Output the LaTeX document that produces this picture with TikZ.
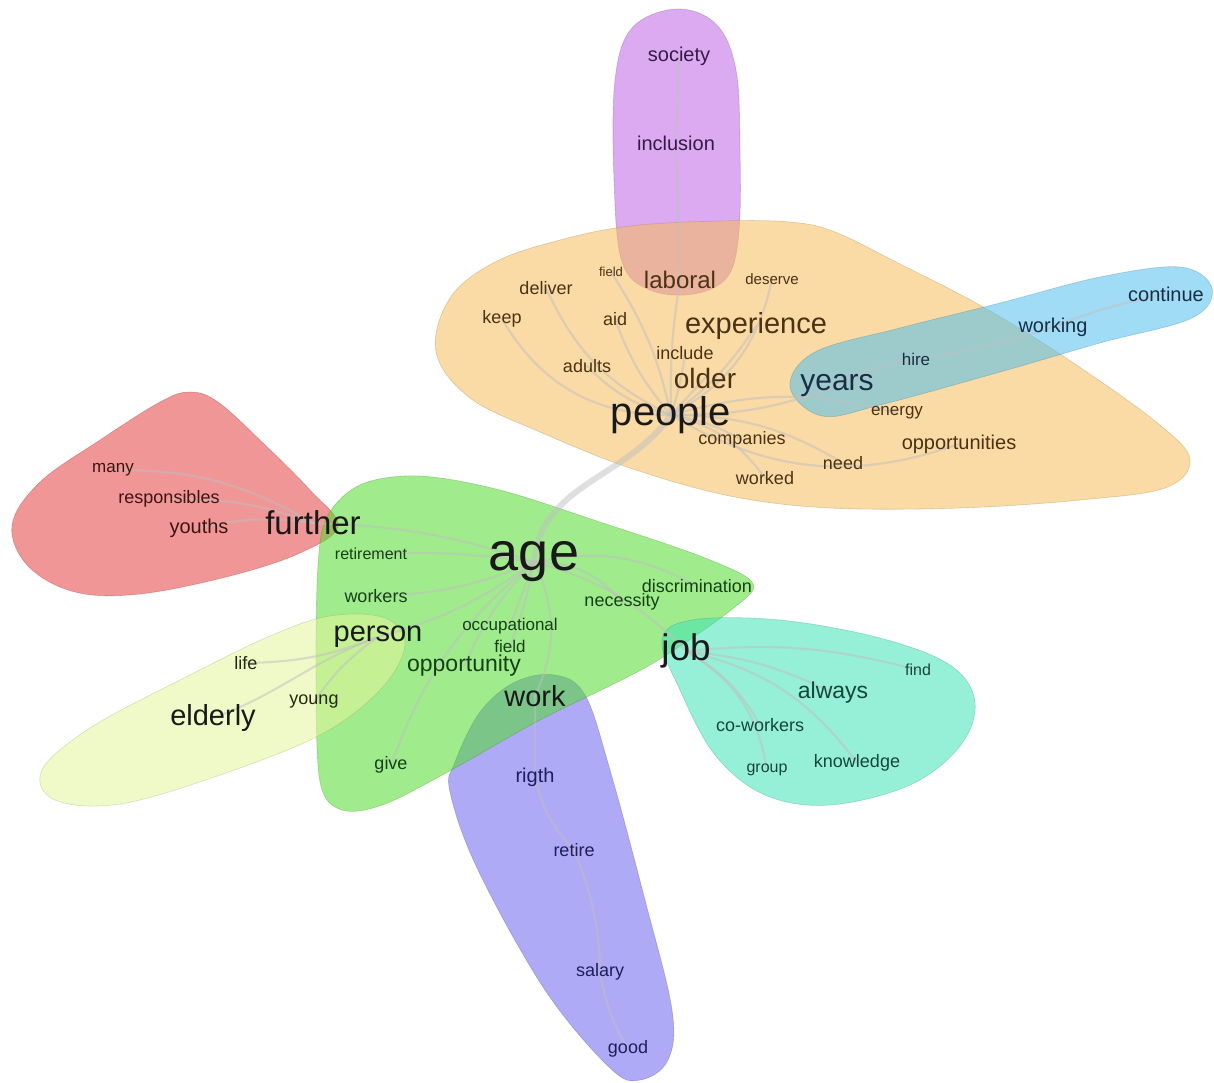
\documentclass[tikz,border=0pt]{standalone}
\usepackage{fontspec}
\setmainfont{Liberation Sans}
\pgfdeclarelayer{blobs}
\pgfdeclarelayer{edges}
\pgfsetlayers{blobs,edges,main}
\definecolor{orangeblob}{RGB}{246,188,91}
\definecolor{purpleblob}{RGB}{191,100,228}
\definecolor{skyblob}{RGB}{82,191,237}
\definecolor{redblob}{RGB}{228,64,64}
\definecolor{greenblob}{RGB}{82,219,46}
\definecolor{yellowblob}{RGB}{228,246,155}
\definecolor{aquablob}{RGB}{64,228,182}
\definecolor{lavblob}{RGB}{110,100,237}
\definecolor{orangetext}{RGB}{75,50,20}
\definecolor{skytext}{RGB}{25,45,70}
\definecolor{purpletext}{RGB}{55,25,70}
\definecolor{redtext}{RGB}{60,20,20}
\definecolor{greentext}{RGB}{20,65,20}
\definecolor{yellowtext}{RGB}{35,40,15}
\definecolor{lavtext}{RGB}{30,30,90}
\definecolor{aquatext}{RGB}{20,70,60}
\tikzset{
  sz/.style={font=\fontsize{#1}{#1}\selectfont},
  blob/.style={fill=#1, fill opacity=0.55, draw=#1!60!black, draw opacity=0.3, line width=0.6pt},
  edge/.style={draw=black!25, line width=2.2pt, draw opacity=0.5, line cap=round},
  hub/.style={text=black!90, inner sep=0pt},
  ow/.style={text=orangetext, inner sep=0pt},
  sw/.style={text=skytext, inner sep=0pt},
  pw/.style={text=purpletext, inner sep=0pt},
  rw/.style={text=redtext, inner sep=0pt},
  gw/.style={text=greentext, inner sep=0pt},
  yw/.style={text=yellowtext, inner sep=0pt},
  lw/.style={text=lavtext, inner sep=0pt},
  aw/.style={text=aquatext, inner sep=0pt}
}
\begin{document}
\begin{tikzpicture}[x=1pt,y=-1pt]
	\useasboundingbox (0,0) rectangle (1214,1082);
	% words: orange group
	\node[ow,sz=24] at (680,280) (laboral) {laboral};
	\node[ow,sz=13] at (611,272) (field1) {field};
	\node[ow,sz=15] at (772,279) (deserve) {deserve};
	\node[ow,sz=18] at (546,288) (deliver) {deliver};
	\node[ow,sz=18] at (502,319) (keep) {keep};
	\node[ow,sz=18] at (615,319) (aid) {aid};
	\node[ow,sz=29] at (756,326) (experience) {experience};
	\node[ow,sz=18] at (685,353) (include) {include};
	\node[ow,sz=18] at (587,366) (adults) {adults};
	\node[ow,sz=28] at (705,378) (older) {older};
	\node[hub,sz=40] at (671,415) (people) {people};
	\node[ow,sz=17] at (897,413) (energy) {energy};
	\node[ow,sz=18] at (742,440) (companies) {companies};
	\node[ow,sz=20] at (959,444) (opportunities) {opportunities};
	\node[ow,sz=18] at (843,463) (need) {need};
	\node[ow,sz=18] at (765,478) (worked) {worked};
	% sky group
	\node[sw,sz=30] at (837,386) (years) {years};
	\node[sw,sz=17] at (916,359) (hire) {hire};
	\node[sw,sz=20] at (1053,327) (working) {working};
	\node[sw,sz=20] at (1166,294) (continue) {continue};
	% purple group
	\node[pw,sz=20] at (679,56) (society) {society};
	\node[pw,sz=20] at (676,143) (inclusion) {inclusion};
	% red group
	\node[rw,sz=17] at (113,470) (many) {many};
	\node[rw,sz=18] at (169,499) (responsibles) {responsibles};
	\node[rw,sz=20] at (199,528) (youths) {youths};
	\node[hub,sz=33] at (313,523) (further) {further};
	% green group
	\node[gw,sz=16] at (371,554) (retirement) {retirement};
	\node[hub,sz=54] at (534,562) (age) {age};
	\node[gw,sz=18] at (376,596) (workers) {workers};
	\node[gw,sz=18] at (697,586) (discrimination) {discrimination};
	\node[gw,sz=18] at (622,602) (necessity) {necessity};
	\node[hub,sz=29] at (378,637) (person) {person};
	\node[gw,sz=17] at (510,626) (occupational) {occupational};
	\node[gw,sz=17] at (510,646) (field2) {field};
	\node[gw,sz=23] at (464,666) (opportunity) {opportunity};
	\node[gw,sz=18] at (391,765) (give) {give};
	\node[hub,sz=37] at (686,651) (job) {job};
	% yellow group
	\node[yw,sz=18] at (246,663) (life) {life};
	\node[yw,sz=18] at (314,702) (young) {young};
	\node[hub,sz=29] at (213,718) (elderly) {elderly};
	% lavender group
	\node[hub,sz=29] at (535,696) (work) {work};
	\node[lw,sz=20] at (535,777) (rigth) {rigth};
	\node[lw,sz=18] at (574,850) (retire) {retire};
	\node[lw,sz=18] at (600,972) (salary) {salary};
	\node[lw,sz=18] at (628,1049) (good) {good};
	% aqua group
	\node[aw,sz=16] at (918,670) (find) {find};
	\node[aw,sz=23] at (833,693) (always) {always};
	\node[aw,sz=18] at (760,725) (coworkers) {co-workers};
	\node[aw,sz=16] at (767,770) (group) {group};
	\node[aw,sz=18] at (857,763) (knowledge) {knowledge};

	\begin{pgfonlayer}{blobs}
	\draw[blob=purpleblob] plot[smooth cycle, tension=0.6] coordinates {(676,9) (716,24) (736,70) (740,150) (739,230) (728,276) (694,294) (650,290) (622,262) (614,180) (615,80) (632,28)};
	\draw[blob=orangeblob] plot[smooth cycle, tension=0.6] coordinates {(436,352) (450,298) (495,262) (560,240) (630,226) (720,221) (790,222) (835,232) (900,264) (985,308) (1075,364) (1160,425) (1190,460) (1165,488) (1080,500) (960,508) (830,508) (730,496) (630,468) (540,432) (470,398)};
	\draw[blob=skyblob] plot[smooth cycle, tension=0.6] coordinates {(790,387) (815,352) (900,328) (1000,303) (1100,277) (1180,267) (1212,288) (1192,318) (1100,343) (1000,372) (880,405) (822,416)};
	\draw[blob=redblob] plot[smooth cycle, tension=0.6] coordinates {(12,525) (40,482) (100,440) (160,402) (190,392) (218,402) (262,442) (310,490) (338,526) (300,553) (230,576) (140,594) (75,592) (28,566)};
	\draw[blob=lavblob] plot[smooth cycle, tension=0.6] coordinates {(455,762) (480,712) (515,682) (555,675) (585,695) (610,770) (645,900) (672,1010) (668,1060) (640,1080) (610,1068) (545,990) (478,870) (450,792)};
	\draw[blob=greenblob] plot[smooth cycle, tension=0.55] coordinates {(318,565) (328,515) (362,484) (420,476) (500,490) (600,522) (700,556) (752,582) (735,607) (650,665) (540,720) (455,768) (385,804) (342,810) (320,782) (316,680)};
	\draw[blob=yellowblob] plot[smooth cycle, tension=0.6] coordinates {(42,770) (90,728) (180,680) (270,636) (330,616) (385,618) (405,645) (380,690) (320,735) (220,775) (120,804) (55,800)};
	\draw[blob=aquablob] plot[smooth cycle, tension=0.6] coordinates {(662,640) (692,620) (780,620) (880,638) (950,665) (975,702) (960,746) (910,785) (830,805) (765,795) (715,755) (680,690)};
	\end{pgfonlayer}

	\begin{pgfonlayer}{edges}
	\draw[edge, line width=6pt] (age.center) to[out=85,in=235] (people.center);
	% people
	\path[edge] (people.center) edge[bend left=30] (keep.center)
	(people.center) edge[bend left=20] (deliver.center)
	(people.center) edge[bend left=10] (aid.center)
	(people.center) edge[bend left=15] (adults.center)
	(people.center) edge[bend right=5] (include.center)
	(people.center) edge[bend right=10] (field1.center)
	(people.center) edge[bend left=5] (laboral.center)
	(people.center) edge[bend right=25] (deserve.center)
	(people.center) edge[bend right=10] (experience.center)
	(people.center) edge (older.center)
	(people.center) edge[bend right=10] (years.center)
	(people.center) edge[bend left=10] (companies.center)
	(people.center) edge[bend left=15] (energy.center)
	(people.center) edge[bend right=25] (opportunities.center)
	(people.center) edge[bend left=15] (need.center)
	(people.center) edge[bend left=20] (worked.center);
	\path[edge] (laboral.center) edge (inclusion.center)
	(inclusion.center) edge (society.center)
	(years.center) edge[bend left=10] (hire.center)
	(hire.center) edge[bend right=5] (working.center)
	(working.center) edge[bend left=5] (continue.center);
	% age
	\path[edge] (age.center) edge[bend right=8] (further.center)
	(age.center) edge[bend right=5] (retirement.center)
	(age.center) edge[bend left=10] (workers.center)
	(age.center) edge[bend left=10] (person.center)
	(age.center) edge (occupational.center)
	(age.center) edge[bend left=5] (field2.center)
	(age.center) edge[bend right=10] (opportunity.center)
	(age.center) edge[bend right=15] (give.center)
	(age.center) edge[bend left=25] (necessity.center)
	(age.center) edge[bend left=20] (discrimination.center)
	(age.center) edge[bend left=15] (job.center)
	(age.center) edge[bend left=25] (work.center);
	\path[edge] (further.center) edge[bend right=10] (youths.center)
	(further.center) edge[bend right=10] (responsibles.center)
	(further.center) edge[bend right=15] (many.center);
	\path[edge] (person.center) edge[bend left=10] (life.center)
	(person.center) edge[bend right=10] (young.center)
	(person.center) edge[out=200,in=20] (elderly.center);
	\path[edge] (job.center) edge[bend left=10] (find.center)
	(job.center) edge[bend left=10] (always.center)
	(job.center) edge[bend left=15] (coworkers.center)
	(job.center) edge[bend left=25] (group.center)
	(job.center) edge[bend left=20] (knowledge.center);
	\path[edge] (work.center) edge (rigth.center)
	(rigth.center) edge[bend right=15] (retire.center)
	(retire.center) edge[bend left=10] (salary.center)
	(salary.center) edge[bend right=10] (good.center);
	\end{pgfonlayer}
\end{tikzpicture}
\end{document}
